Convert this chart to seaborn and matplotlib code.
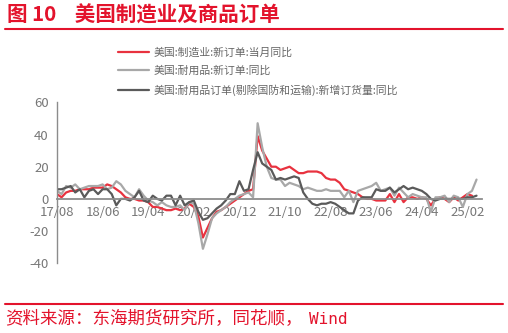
import numpy as np
import pandas as pd
import matplotlib
matplotlib.use("Agg")
import matplotlib.pyplot as plt
import seaborn as sns

sns.set_style("white")
plt.rcParams['font.family'] = ['Noto Sans CJK SC', 'DejaVu Sans']
plt.rcParams['axes.unicode_minus'] = False

# Monthly, 2017-08 .. 2025-04
months = pd.period_range("2017-08", "2025-04", freq="M").strftime("%y/%m").tolist()

mfg_new_orders = [3, 1, 4, 5, 5, 6, 6, 6, 7, 7, 7, 9, 8, 6, 4, 1, 0, 0, -1, -1,
                  -2, -5, -5, -6, -7, -7, -6, -7, -6, -3, -5, -11, -24, -18, -12, -8, -7, -5, -3, -1,
                  1, 3, 5, 6, 39, 30, 25, 20, 20, 18, 19, 20, 18, 16, 16, 17, 17, 17, 16, 13,
                  12, 12, 10, 6, 5, 4, 3, 1, 0, 0, -1, -1, -1, 3, -2, 3, -2, 1, 1, 0,
                  1, 0, -4, 0, 1, 0, -2, 1, -1, 1, 3, 2, np.nan]

durable_orders = [5, 3, 8, 7, 9, 6, 7, 8, 8, 8, 9, 6, 7, 11, 9, 5, 3, 1, 6, 2,
                  -1, -2, -4, -2, -4, -5, -5, -4, -7, -2, -3, -15, -31, -22, -12, -9, -7, -5, -2, 0,
                  2, 3, 4, 1, 47, 32, 20, 13, 12, 12, 8, 10, 9, 8, 6, 7, 6, 5, 5, 6,
                  5, 5, 5, 1, 5, -2, 5, 6, 7, 8, 10, 5, 6, 7, 2, 7, 4, 1, 3, 2,
                  1, 1, -8, 1, 1, 2, -2, 2, 1, -5, 3, 5, 12]

core_orders = [6, 6, 7, 8, 4, 6, 1, 5, 6, 3, 6, 6, 3, -4, 0, 0, -1, 1, 5, -1,
               -2, 2, 0, -1, 2, 2, -4, 2, -4, -2, -1, -8, -13, -12, -9, -6, -4, -1, 3, 3,
               11, 5, 6, 18, 29, 22, 20, 18, 12, 13, 12, 13, 14, 13, 4, 0, -3, -4, -3, -3,
               -2, -3, -5, -7, -9, -9, -1, 1, 1, 1, 6, 5, 5, 7, 4, 6, 8, 6, 7, 6,
               5, 3, 0, -1, 0, 0, 0, 0, 0, 0, 1, 1, 2]

names = ["美国:制造业:新订单:当月同比",
         "美国:耐用品:新订单:同比",
         "美国:耐用品订单(剔除国防和运输):新增订货量:同比"]
colors = ["#e8323f", "#a8a8a8", "#5a5a5a"]

idx = np.arange(len(months))
df = pd.DataFrame({"idx": np.concatenate([idx] * 3),
                   "value": mfg_new_orders + durable_orders + core_orders,
                   "series": sum([[n] * len(months) for n in names], [])})

fig = plt.figure(figsize=(5.08, 3.33), dpi=100)
ax = fig.add_axes([57 / 508, 1 - 263.3 / 333, (482 - 57) / 508, (263.3 - 102.3) / 333])

for n, c in zip(names, colors):
    sub = df[df.series == n]
    sns.lineplot(data=sub, x="idx", y="value", color=c, lw=1.6, ax=ax, label=n)

ax.set_xlim(0, 93.2)
ax.set_ylim(-40, 60)
ax.set_yticks([-40, -20, 0, 20, 40, 60])
tick_pos = idx[::10]
ax.set_xticks(tick_pos)
ax.set_xticklabels([months[i] for i in tick_pos])
ax.set_xlabel("")
ax.set_ylabel("")

for s in ["top", "right"]:
    ax.spines[s].set_visible(False)
ax.spines["bottom"].set_position(("data", 0))
ax.spines["bottom"].set_color("#8c8c8c")
ax.spines["bottom"].set_linewidth(1.3)
ax.spines["left"].set_color("#8c8c8c")
ax.spines["left"].set_linewidth(1.0)
ax.tick_params(axis="x", direction="in", length=4, color="#8c8c8c", labelsize=9.5,
               labelcolor="#777777", pad=5)
ax.tick_params(axis="y", direction="out", length=4, color="#8c8c8c", labelsize=9.5,
               labelcolor="#777777", pad=2)
ax.set_zorder(1)

leg = ax.legend(loc="upper left", bbox_to_anchor=(113 / 508, 1 - 42 / 333),
                bbox_transform=fig.transFigure, frameon=False, fontsize=7.8,
                handlelength=2.8, labelspacing=0.75, handletextpad=0.45, borderpad=0)
for t in leg.get_texts():
    t.set_color("#666666")

red = "#e3132c"
fig.text(7 / 508, 1 - 15 / 333, "图 10    美国制造业及商品订单", color=red, fontsize=14.8,
         fontweight="bold", va="center", ha="left")
fig.add_artist(plt.Line2D([5 / 508, 503 / 508], [1 - 29.3 / 333] * 2, color=red, lw=1.5))
fig.add_artist(plt.Line2D([5 / 508, 503 / 508], [1 - 303.7 / 333] * 2, color=red, lw=1.5))
fig.text(5 / 508, 1 - 319 / 333, "资料来源：东海期货研究所，同花顺，", color=red, fontsize=12.6,
         va="center", ha="left")
fig.text(309 / 508, 1 - 319 / 333, "Wind", color=red, fontsize=11.5, family="DejaVu Sans Mono",
         va="center", ha="left")

fig.savefig("out.png", dpi=100)
